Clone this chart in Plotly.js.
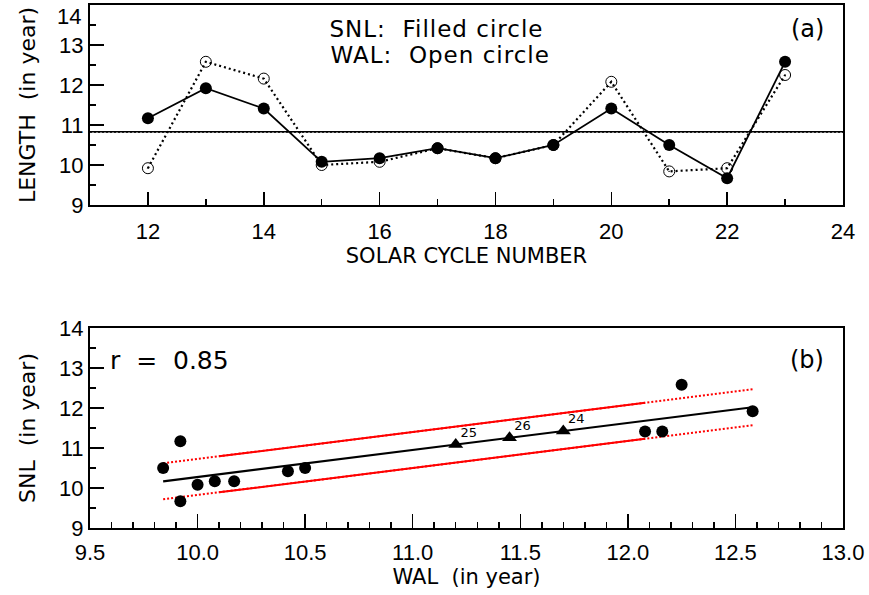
<!DOCTYPE html>
<html>
<head>
<meta charset="utf-8">
<script src="https://cdn.plot.ly/plotly-3.0.1.min.js"></script>
<style>
html,body{margin:0;padding:0;background:#fff;}
#chart{width:869px;height:595px;}
#chart .annotation[data-index="0"] text, #chart .annotation[data-index="1"] text{letter-spacing:1px;}
</style>
</head>
<body>
<div id="chart"></div>
<script>
// ---- data ----
const cycles = [12, 13, 14, 15, 16, 17, 18, 19, 20, 21, 22, 23];
const snl    = [11.17, 11.92, 11.41, 10.08, 10.17, 10.42, 10.17, 10.50, 11.41, 10.50, 9.67, 12.58];
const wal    = [9.92, 12.58, 12.16, 10.00, 10.08, 10.42, 10.17, 10.50, 12.08, 9.84, 9.92, 12.25];
const predCycles = [24, 25, 26];
const predWal    = [11.70, 11.20, 11.45];
const yTickVals  = [9, 10, 11, 12, 13, 14];
const bandHalfWidth = 0.45;            // half width of red band (years)
const bandSolidRange = [10.10, 12.08]; // part of the band drawn solid

// ---- derived quantities ----
const n = snl.length;
const mean = a => a.reduce((s, v) => s + v, 0) / a.length;
const mS = mean(snl), mW = mean(wal);
let sxy = 0, sxx = 0, syy = 0;
for (let i = 0; i < n; i++) {
  sxy += (wal[i] - mW) * (snl[i] - mS);
  sxx += (wal[i] - mW) ** 2;
  syy += (snl[i] - mS) ** 2;
}
const slope = sxy / sxx, icpt = mS - slope * mW;
const r = sxy / Math.sqrt(sxx * syy);
const fit = x => icpt + slope * x;
const xMin = Math.min(...wal), xMax = Math.max(...wal);
const fitX = [xMin, xMax];
const xRange1 = [11, 24], yRange = [9, 14], xRange2 = [9.5, 13];
const yTop = yTickVals[yTickVals.length - 1];

const FONT = 'DejaVu Sans';
const TICKFONT = 'Liberation Sans';
const traces = [
  // top panel
  {x: xRange1, y: [mW, mW], xaxis: 'x', yaxis: 'y', mode: 'lines',
   line: {color: 'black', width: 1.5, dash: '2px,2px'}},
  {x: xRange1, y: [mS, mS], xaxis: 'x', yaxis: 'y', mode: 'lines',
   line: {color: 'black', width: 1.5}},
  {x: cycles, y: wal, xaxis: 'x', yaxis: 'y', mode: 'lines+markers',
   line: {color: 'black', width: 2.2, dash: '2px,3px'},
   marker: {symbol: 'circle-open-dot', size: 11, color: 'black', line: {width: 1, color: 'black'}}},
  {x: cycles, y: snl, xaxis: 'x', yaxis: 'y', mode: 'lines+markers',
   line: {color: 'black', width: 1.8},
   marker: {symbol: 'circle', size: 12, color: 'black'}},
  // bottom panel
  {x: fitX, y: fitX.map(x => fit(x) + bandHalfWidth), xaxis: 'x2', yaxis: 'y2', mode: 'lines',
   line: {color: 'red', width: 2, dash: '2px,2px'}},
  {x: fitX, y: fitX.map(x => fit(x) - bandHalfWidth), xaxis: 'x2', yaxis: 'y2', mode: 'lines',
   line: {color: 'red', width: 2, dash: '2px,2px'}},
  {x: bandSolidRange, y: bandSolidRange.map(x => fit(x) + bandHalfWidth), xaxis: 'x2', yaxis: 'y2', mode: 'lines',
   line: {color: 'red', width: 2}},
  {x: bandSolidRange, y: bandSolidRange.map(x => fit(x) - bandHalfWidth), xaxis: 'x2', yaxis: 'y2', mode: 'lines',
   line: {color: 'red', width: 2}},
  {x: fitX, y: fitX.map(fit), xaxis: 'x2', yaxis: 'y2', mode: 'lines',
   line: {color: 'black', width: 2.2}},
  {x: wal, y: snl, xaxis: 'x2', yaxis: 'y2', mode: 'markers',
   marker: {symbol: 'circle', size: 12, color: 'black'}},
  {x: predWal, y: predWal.map(fit), xaxis: 'x2', yaxis: 'y2', mode: 'markers',
   marker: {symbol: 'triangle-up', size: 13, color: 'black'}},
  {x: predWal, y: predWal.map(fit), xaxis: 'x2', yaxis: 'y2', mode: 'markers+text',
   text: predCycles.map(String), textposition: 'top right',
   marker: {size: 6, color: 'rgba(0,0,0,0)'},
   textfont: {family: FONT, size: 13, color: 'black'}}
];

const axBase = {
  showline: true, linecolor: 'black', linewidth: 2, mirror: true,
  ticks: 'inside', tickcolor: 'black', tickwidth: 1.5, ticklen: 14,
  showgrid: false, zeroline: false, fixedrange: true, ticklabeloverflow: 'allow',
  tickfont: {family: TICKFONT, size: 22, color: 'black'}
};
const minorBase = {ticks: 'inside', ticklen: 6, tickcolor: 'black', tickwidth: 1.5, showgrid: false};
const titleFont = {family: FONT, size: 21, color: 'black'};
const yTitleFont = {family: FONT, size: 22, color: 'black'};
// mirrored (top / right) tick-only axes
const mirrorAx = (over, anchor, side, range, dtick, mdtick, ticklen) => ({
  overlaying: over, anchor: anchor, side: side, range: range, tick0: 0, dtick: dtick,
  ticks: 'inside', ticklen: ticklen, tickcolor: 'black', tickwidth: 1.5,
  showticklabels: false, showline: false, showgrid: false, zeroline: false, fixedrange: true,
  minor: Object.assign({}, minorBase, {dtick: mdtick})
});

const layout = {
  width: 869, height: 595,
  margin: {l: 90, r: 26, t: 5, b: 67},
  paper_bgcolor: 'white', plot_bgcolor: 'white',
  showlegend: false,
  font: {family: FONT, color: 'black'},
  xaxis: Object.assign({}, axBase, {
    domain: [0, 1], anchor: 'y', range: xRange1, tick0: 0, dtick: 2, ticklen: 13,
    ticklabelstandoff: 6,
    minor: Object.assign({}, minorBase, {dtick: 1}),
    title: {text: 'SOLAR CYCLE NUMBER', font: titleFont, standoff: 2}
  }),
  yaxis: Object.assign({}, axBase, {
    domain: [0.6176, 1], anchor: 'x', range: yRange,
    tickmode: 'array', tickvals: yTickVals,
    ticktext: yTickVals.map(v => v === yTop ? '' : String(v)),
    minor: Object.assign({}, minorBase, {dtick: 0.5, tick0: 0}),
    title: {text: 'LENGTH  (in year)', font: yTitleFont, standoff: 17}
  }),
  xaxis2: Object.assign({}, axBase, {
    domain: [0, 1], anchor: 'y2', range: xRange2, dtick: 0.5, tick0: 0, tickformat: '.1f',
    ticklabelstandoff: 4,
    minor: Object.assign({}, minorBase, {dtick: 0.1}),
    title: {text: 'WAL  (in year)', font: titleFont, standoff: 2}
  }),
  yaxis2: Object.assign({}, axBase, {
    domain: [0, 0.3824], anchor: 'x2', range: yRange, dtick: 1, tick0: 0,
    minor: Object.assign({}, minorBase, {dtick: 0.5}),
    title: {text: 'SNL  (in year)', font: yTitleFont, standoff: 17}
  }),
  xaxis3: mirrorAx('x', 'y', 'top', xRange1, 2, 1, 13),
  yaxis3: Object.assign(mirrorAx('y', 'x', 'right', yRange, 1, 0.5, 14), {domain: [0.6176, 1]}),
  xaxis4: mirrorAx('x2', 'y2', 'top', xRange2, 0.5, 0.1, 14),
  yaxis4: Object.assign(mirrorAx('y2', 'x2', 'right', yRange, 1, 0.5, 14), {domain: [0, 0.3824]}),
  annotations: [
    {xref: 'paper', yref: 'paper', x: 0.328, y: 0.955, text: 'SNL:  Filled circle', showarrow: false,
     xanchor: 'left', yanchor: 'middle', font: {family: FONT, size: 23, color: 'black'}},
    {xref: 'paper', yref: 'paper', x: 0.328, y: 0.905, text: 'WAL:  Open circle', showarrow: false,
     xanchor: 'left', yanchor: 'middle', font: {family: FONT, size: 23, color: 'black'}},
    {xref: 'paper', yref: 'paper', x: 0.978, y: 0.955, text: '(a)', showarrow: false,
     xanchor: 'right', yanchor: 'middle', font: {family: FONT, size: 24, color: 'black'}},
    {xref: 'paper', yref: 'paper', x: 0.024, y: 0.321, text: 'r  =  ' + r.toFixed(2), showarrow: false,
     xanchor: 'left', yanchor: 'middle', font: {family: FONT, size: 25, color: 'black'}},
    {xref: 'paper', yref: 'paper', x: 0.978, y: 0.321, text: '(b)', showarrow: false,
     xanchor: 'right', yanchor: 'middle', font: {family: FONT, size: 24, color: 'black'}},
    // top tick label of the upper panel, set just below the frame as in the original
    {xref: 'paper', yref: 'y', x: 0, y: yTop, text: String(yTop), showarrow: false,
     xanchor: 'right', yanchor: 'top', xshift: -7, yshift: 3,
     font: {family: TICKFONT, size: 22, color: 'black'}}
  ]
};

Plotly.newPlot('chart', traces, layout, {displayModeBar: false, staticPlot: true});
</script>
</body>
</html>
